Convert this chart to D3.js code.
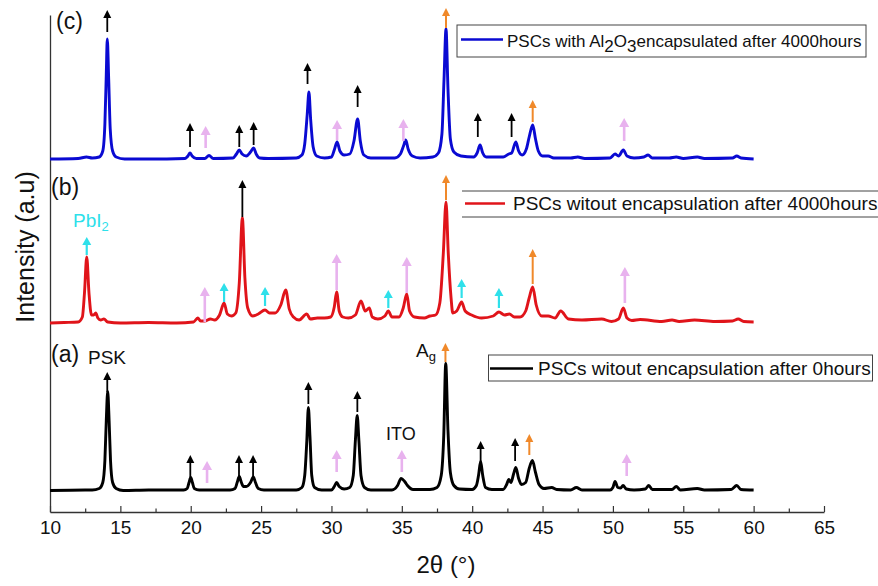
<!DOCTYPE html>
<html>
<head>
<meta charset="utf-8">
<script src="https://cdn.jsdelivr.net/npm/d3@7"></script>
<style>
  html, body { margin: 0; padding: 0; background: #fff; }
  svg { display: block; font-family: Arial, "Liberation Sans", sans-serif; }
</style>
</head>
<body>
<svg id="chart" width="878" height="586"></svg>
<script>
// XRD patterns, 2θ (degrees) vs intensity (a.u.), each trace stacked by its own offset
const xTicks = [10, 15, 20, 25, 30, 35, 40, 45, 50, 55, 60, 65];
const xMinorTicks = [12.5, 17.5, 22.5, 27.5, 32.5, 37.5, 42.5, 47.5, 52.5, 57.5, 62.5];

const seriesNames = [
  "PSCs witout encapsulation after 0hours",
  "PSCs witout encapsulation after 4000hours",
  "PSCs with Al2O3encapsulated after 4000hours"
];
const seriesColors = ["#000000", "#e0141a", "#0a0ad2"];
const seriesOffsets = [21.5, 189, 353];

// (a) fresh device, 0 hours
const patternA = [
  [10, 0], [12.5, 0.5], [13.0, 0.5], [13.5, 2], [13.75, 8], [13.9, 30], [14.0, 70], [14.1, 99], [14.2, 70],
  [14.3, 30], [14.45, 8], [14.7, 2], [15.2, 0], [17, 0.5], [19.5, 0.5], [19.75, 2], [19.88, 8], [20.0, 13],
  [20.12, 8], [20.25, 2], [20.6, 0.5], [22.8, 0.5], [23.15, 2], [23.3, 8], [23.45, 14], [23.6, 8], [23.75, 4],
  [23.95, 4], [24.25, 8], [24.45, 13.5], [24.6, 8], [24.8, 2], [25.2, 0.5], [27.5, 0.5], [27.9, 3], [28.1, 15],
  [28.25, 50], [28.36, 83], [28.47, 55], [28.6, 15], [28.8, 3], [29.3, 0.5], [30.0, 0.5], [30.2, 4], [30.37, 8],
  [30.55, 4], [30.9, 1.5], [31.3, 3], [31.55, 15], [31.7, 50], [31.83, 75], [31.95, 50], [32.1, 15], [32.35, 3],
  [32.8, 0.5], [34.3, 0.5], [34.7, 5], [34.95, 12], [35.2, 9], [35.4, 5], [35.8, 1], [37.0, 1], [37.5, 3],
  [37.8, 15], [37.98, 55], [38.12, 127], [38.28, 60], [38.45, 18], [38.7, 5], [39.1, 1.5], [40.0, 1],
  [40.3, 5], [40.45, 15], [40.6, 29], [40.75, 15], [40.95, 3], [41.4, 1], [42.2, 1], [42.45, 6], [42.6, 11],
  [42.75, 8], [42.95, 17], [43.1, 23], [43.3, 12], [43.5, 6], [43.8, 8], [44.05, 22], [44.28, 30], [44.5, 18],
  [44.75, 6], [45.1, 2], [45.65, 3], [46.0, 1], [47.0, 0.5], [47.4, 3], [47.8, 0.5], [49.8, 0.5], [50.0, 3],
  [50.15, 9], [50.35, 3], [50.55, 2.5], [50.72, 5], [50.95, 1.5], [51.5, 0.5], [52.3, 1.5], [52.55, 5],
  [52.8, 1], [54.2, 1], [54.5, 4], [54.8, 0.5], [56.0, 2], [56.5, 0.5], [58.4, 1], [58.8, 5], [59.1, 1], [60, 0.5]
];

// (b) unencapsulated device after 4000 hours
const patternB = [
  [10, 0], [11, 0.5], [12.0, 1], [12.3, 6], [12.45, 30], [12.61, 66], [12.77, 30], [12.95, 8], [13.1, 8],
  [13.25, 10], [13.4, 5], [13.6, 3], [13.83, 4], [14.1, 1], [15, 0], [17, 0.5], [19, 0], [20.2, 1], [20.5, 5],
  [20.7, 2], [21.0, 2], [21.4, 4], [21.7, 3], [22.05, 8], [22.37, 20], [22.6, 9], [22.9, 7], [23.2, 10],
  [23.45, 40], [23.67, 105], [23.85, 45], [24.05, 15], [24.4, 7], [24.8, 9], [25.28, 13], [25.6, 10],
  [26.0, 10], [26.4, 18], [26.75, 33], [27.0, 14], [27.3, 6], [27.7, 3], [28.24, 9], [28.5, 4], [29.0, 5],
  [29.5, 5], [29.95, 6], [30.2, 16], [30.37, 31], [30.55, 12], [30.8, 6], [31.2, 5], [31.7, 8], [32.1, 22],
  [32.4, 12], [32.69, 15], [32.9, 6], [33.3, 4], [33.8, 7], [34.04, 12], [34.3, 6], [34.8, 6], [35.1, 15],
  [35.35, 29], [35.55, 12], [35.9, 6], [36.6, 5], [37.0, 7], [37.4, 8], [37.7, 20], [37.95, 70], [38.14, 121],
  [38.3, 70], [38.5, 25], [38.62, 10], [38.9, 12], [39.25, 21], [39.5, 12], [39.96, 8], [40.67, 5], [41.5, 7],
  [41.9, 11], [42.3, 8], [42.64, 9], [43.0, 6], [43.4, 6], [43.8, 12], [44.05, 25], [44.3, 36], [44.55, 18],
  [44.94, 7], [45.4, 7], [45.89, 5], [46.29, 12], [46.84, 4], [47.8, 3], [49.2, 4], [49.9, 1.5], [50.4, 4],
  [50.74, 15], [51.0, 5], [51.34, 2.5], [51.93, 3.5], [53.47, 1.5], [54.2, 3], [54.7, 1.5], [55.8, 3],
  [57.26, 1.5], [58.5, 2], [58.9, 4], [59.3, 1.5], [60, 1]
];

// (c) Al2O3-encapsulated device after 4000 hours
const patternC = [
  [10, 0], [12, 0.5], [12.6, 2], [13.0, 1], [13.5, 2], [13.75, 8], [13.9, 35], [14.0, 85], [14.07, 120],
  [14.17, 80], [14.28, 30], [14.45, 8], [14.7, 2], [15.3, 0], [17, 0], [19.6, 0.5], [19.8, 3], [19.95, 6],
  [20.1, 3], [20.4, 0.5], [21.0, 0.5], [21.3, 3.5], [21.6, 0.5], [23.0, 1], [23.25, 5], [23.45, 9], [23.65, 5],
  [23.95, 3], [24.25, 7], [24.47, 11], [24.65, 5], [24.9, 1], [25.5, 0.5], [27.5, 1], [27.9, 4], [28.1, 15],
  [28.28, 45], [28.4, 67], [28.52, 40], [28.7, 12], [28.95, 3], [29.5, 1], [30.0, 2], [30.2, 9], [30.4, 17],
  [30.6, 8], [30.9, 4], [31.3, 5], [31.6, 18], [31.86, 40], [32.05, 18], [32.3, 4], [32.8, 1], [34.5, 1],
  [34.9, 5], [35.12, 13], [35.28, 19], [35.45, 10], [35.75, 3], [36.3, 1], [37.2, 2], [37.6, 6], [37.85, 25],
  [38.0, 80], [38.14, 130], [38.28, 70], [38.45, 20], [38.7, 7], [39.2, 3], [40.1, 2], [40.35, 6], [40.56, 14],
  [40.75, 6], [41.0, 2], [42.2, 2], [42.6, 5], [42.8, 6], [43.1, 17], [43.3, 8], [43.55, 4], [43.85, 10],
  [44.05, 22], [44.3, 34], [44.5, 20], [44.7, 8], [45.0, 3], [45.4, 3], [45.8, 1], [47.0, 1], [47.5, 2],
  [48, 0.5], [49.8, 1], [50.15, 5], [50.4, 3], [50.74, 9], [51.0, 3], [51.5, 1], [52.2, 2], [52.5, 4],
  [52.8, 1], [54.0, 1], [54.5, 2], [55, 0.5], [56, 2], [56.5, 0.5], [58.5, 1], [58.8, 3], [59.1, 1], [60, 0]
];

const patterns = [patternA, patternB, patternC];

// Phase markers: [2θ, arrow base, arrow tip] on the stacked intensity axis
const markersPSK = [
  [14.07, 120, 140], [19.97, 35, 57], [23.43, 35, 57], [24.43, 35, 57], [28.36, 108, 130], [31.84, 100, 121],
  [40.6, 50, 71], [43.05, 51, 74],
  [23.67, 295, 332],
  [14.07, 480, 502], [19.95, 365, 389], [23.45, 365, 387], [24.47, 367, 390], [28.3, 428, 449],
  [31.86, 405, 427], [40.4, 375, 399], [42.8, 375, 399]
];
const markersAg = [
  [38.1, 150, 169], [44.06, 57, 78],
  [38.14, 312, 337], [44.3, 228, 263],
  [38.14, 484, 504], [44.3, 390, 412]
];
const markersITO = [
  [21.16, 29, 51], [30.37, 40, 62], [35.0, 40, 62], [50.98, 36, 58],
  [21.0, 190, 225], [30.37, 222, 258], [35.35, 219, 255], [50.85, 209, 245],
  [21.06, 364, 386], [30.4, 372, 392], [35.11, 371, 393], [50.8, 371, 394]
];
const markersPbI2 = [
  [12.61, 257, 275], [22.37, 210, 229], [25.28, 206, 225], [34.04, 204, 222], [39.25, 214, 233], [41.9, 204, 224]
];

const svg = d3.select("#chart");
const x = d3.scaleLinear().domain([10, 65]).range([50, 824]);
const y = d3.scaleLinear().domain([0, 497]).range([512, 15]);

// axes
const axisColor = "#333";
const gx = svg.append("g").attr("transform", "translate(0,512)")
  .call(d3.axisBottom(x).tickValues(xTicks).tickSizeInner(-6).tickSizeOuter(0).tickPadding(9));
gx.select(".domain").attr("stroke", axisColor).attr("stroke-width", 1.3);
gx.selectAll(".tick line").attr("stroke", axisColor).attr("stroke-width", 1.2);
gx.selectAll(".tick text").attr("font-size", 19).attr("fill", "#111")
  .attr("font-family", "Arial, 'Liberation Sans', sans-serif");

const gxm = svg.append("g").attr("transform", "translate(0,512)")
  .call(d3.axisBottom(x).tickValues(xMinorTicks).tickSizeInner(-3.5).tickSizeOuter(0).tickFormat(""));
gxm.select(".domain").remove();
gxm.selectAll(".tick line").attr("stroke", axisColor).attr("stroke-width", 1.2);

const gy = svg.append("g").attr("transform", "translate(50,0)")
  .call(d3.axisLeft(y).tickValues([]).tickSizeOuter(0));
gy.select(".domain").attr("stroke", axisColor).attr("stroke-width", 1.3);

svg.append("text").attr("x", 446).attr("y", 573).attr("text-anchor", "middle")
  .attr("font-size", 24).attr("fill", "#111").text("2θ (°)");
svg.append("text").attr("transform", "translate(34,247) rotate(-90)").attr("text-anchor", "middle")
  .attr("font-size", 25).attr("fill", "#111").text("Intensity (a.u)");

// traces
const line = d3.line().x(d => x(d[0])).y(d => y(d[1])).curve(d3.curveMonotoneX);
patterns.forEach((p, i) => {
  const off = seriesOffsets[i];
  svg.append("path")
    .datum(p.map(d => [d[0], d[1] + off]))
    .attr("fill", "none")
    .attr("stroke", seriesColors[i])
    .attr("stroke-width", 2.9)
    .attr("stroke-linejoin", "round")
    .attr("d", line);
});

// arrows
function drawArrows(list, color, shaftW, headW, headH) {
  const g = svg.append("g");
  list.forEach(([t, b, tip]) => {
    const cx = x(t), yb = y(b), yt = y(tip);
    g.append("line").attr("x1", cx).attr("x2", cx).attr("y1", yb).attr("y2", yt + headH - 1)
      .attr("stroke", color).attr("stroke-width", shaftW);
    g.append("path")
      .attr("d", `M${cx},${yt} L${cx - headW / 2},${yt + headH} L${cx + headW / 2},${yt + headH} Z`)
      .attr("fill", color);
  });
}
drawArrows(markersITO, "#e8b2ee", 2.6, 10, 9);
drawArrows(markersPbI2, "#2ee0ea", 2.2, 9, 8);
drawArrows(markersAg, "#f0892a", 2.0, 8, 8);
drawArrows(markersPSK, "#000000", 1.8, 8, 8);

// panel and phase labels
const labelFont = 23;
svg.append("text").attr("x", 56).attr("y", 29).attr("font-size", labelFont).attr("fill", "#111").text("(c)");
svg.append("text").attr("x", 51).attr("y", 195).attr("font-size", labelFont).attr("fill", "#111").text("(b)");
svg.append("text").attr("x", 51).attr("y", 362).attr("font-size", labelFont).attr("fill", "#111").text("(a)");
svg.append("text").attr("x", 88).attr("y", 364).attr("font-size", 19).attr("fill", "#111").text("PSK");
svg.append("text").attr("x", 386).attr("y", 440).attr("font-size", 18).attr("fill", "#111").text("ITO");
const ag = svg.append("text").attr("x", 416).attr("y", 357).attr("font-size", 19).attr("fill", "#111");
ag.append("tspan").text("A");
ag.append("tspan").attr("dy", 4).attr("font-size", 13).text("g");
const pb = svg.append("text").attr("x", 73).attr("y", 227).attr("font-size", 19).attr("fill", "#2ee0ea");
pb.append("tspan").text("PbI");
pb.append("tspan").attr("dy", 4).attr("font-size", 13).text("2");

// legends
const legendFont = 19;
// (c)
svg.append("rect").attr("x", 457).attr("y", 25).attr("width", 409).attr("height", 32)
  .attr("fill", "#fff").attr("stroke", "#444").attr("stroke-width", 1);
svg.append("line").attr("x1", 461).attr("x2", 503).attr("y1", 39.5).attr("y2", 39.5)
  .attr("stroke", seriesColors[2]).attr("stroke-width", 2.6);
const lc = svg.append("text").attr("x", 507).attr("y", 46.5).attr("font-size", 17).attr("fill", "#111");
lc.append("tspan").text("PSCs with Al");
lc.append("tspan").attr("dy", 5).text("2");
lc.append("tspan").attr("dy", -5).text("O");
lc.append("tspan").attr("dy", 5).text("3");
lc.append("tspan").attr("dy", -5).text("encapsulated after 4000hours");
// (b): frame runs past the right edge, only top and bottom rules show
svg.append("rect").attr("x", 462).attr("y", 191).attr("width", 430).attr("height", 26).attr("fill", "#fff");
[191, 217].forEach(yy => svg.append("line").attr("x1", 462).attr("x2", 878).attr("y1", yy).attr("y2", yy)
  .attr("stroke", "#444").attr("stroke-width", 1));
svg.append("line").attr("x1", 465).attr("x2", 505).attr("y1", 203.5).attr("y2", 203.5)
  .attr("stroke", seriesColors[1]).attr("stroke-width", 2.6);
svg.append("text").attr("x", 513).attr("y", 209.5).attr("font-size", legendFont).attr("fill", "#111")
  .text(seriesNames[1]);
// (a)
svg.append("rect").attr("x", 488.5).attr("y", 355).attr("width", 384).attr("height", 26)
  .attr("fill", "#fff").attr("stroke", "#444").attr("stroke-width", 1);
svg.append("line").attr("x1", 490).attr("x2", 533).attr("y1", 368.5).attr("y2", 368.5)
  .attr("stroke", seriesColors[0]).attr("stroke-width", 2.6);
svg.append("text").attr("x", 538).attr("y", 375).attr("font-size", legendFont).attr("fill", "#111")
  .text(seriesNames[0]);
</script>
</body>
</html>
